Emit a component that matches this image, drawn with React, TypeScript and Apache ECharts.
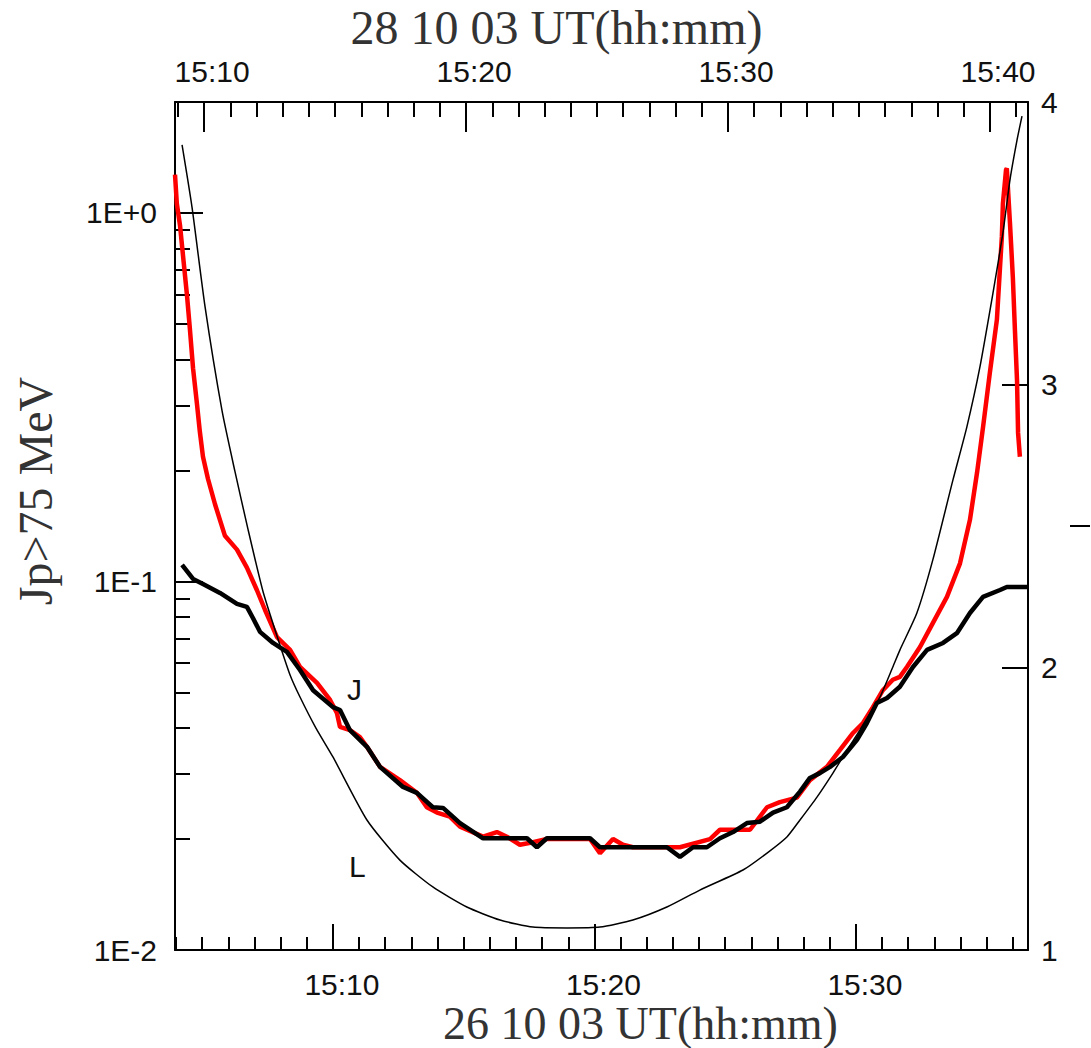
import React, { useEffect, useRef } from 'react';
import * as echarts from 'echarts';

// Bottom axis time: minutes after 15:00 (26 10 03 UT)
const redTime = [3.96, 4.03, 4.15, 4.26, 4.42, 4.53, 4.65, 4.8, 4.91, 5.03, 5.22, 5.49, 5.87, 6.33, 6.71, 7.09, 7.4, 7.86, 8.36, 8.74, 9.39, 9.89, 10.15, 10.27, 10.65, 11.03, 11.3, 11.8, 12.56, 13.21, 13.59, 13.98, 14.47, 14.86, 15.74, 16.27, 16.65, 17.15, 17.65, 18.18, 18.95, 19.83, 20.21, 20.71, 21.09, 21.47, 22.77, 23.27, 24.42, 24.8, 25.3, 25.95, 26.6, 27.09, 27.74, 28.24, 28.89, 29.39, 29.89, 30.27, 30.65, 31.03, 31.41, 31.68, 31.95, 32.45, 32.94, 33.48, 33.98, 34.36, 34.63, 34.86, 35.12, 35.39, 35.51, 35.58, 35.62, 35.74, 35.77, 35.89, 36.0, 36.08, 36.16, 36.2, 36.27];
const redFlux = [1.27, 1.06, 0.927, 0.774, 0.596, 0.484, 0.379, 0.303, 0.255, 0.218, 0.19, 0.162, 0.133, 0.122, 0.109, 0.0948, 0.0838, 0.0706, 0.0652, 0.0586, 0.0531, 0.0477, 0.044, 0.0403, 0.0395, 0.0378, 0.0356, 0.0314, 0.0289, 0.0267, 0.0244, 0.0236, 0.023, 0.0216, 0.0203, 0.0209, 0.0203, 0.0193, 0.0196, 0.02, 0.02, 0.02, 0.0183, 0.02, 0.0193, 0.019, 0.019, 0.019, 0.02, 0.0212, 0.0212, 0.0212, 0.0244, 0.0252, 0.0259, 0.0289, 0.0314, 0.0349, 0.0388, 0.0413, 0.0456, 0.0507, 0.0541, 0.0551, 0.0586, 0.0664, 0.0771, 0.0908, 0.112, 0.147, 0.197, 0.262, 0.368, 0.513, 0.713, 0.861, 1.06, 1.31, 1.32, 0.94, 0.67, 0.481, 0.352, 0.253, 0.218];

const modelTime = [4.23, 4.65, 5.03, 5.68, 6.33, 6.71, 6.94, 7.21, 7.71, 8.24, 8.74, 9.24, 10.0, 10.27, 10.65, 11.3, 11.8, 12.68, 13.21, 13.82, 14.21, 14.86, 15.74, 17.42, 17.8, 18.18, 19.83, 20.21, 22.77, 23.27, 23.77, 24.3, 24.8, 25.3, 25.83, 26.33, 26.83, 27.36, 27.86, 28.24, 28.62, 29.01, 29.5, 30.04, 30.42, 30.8, 31.19, 31.68, 32.18, 32.72, 33.33, 33.86, 34.36, 34.86, 35.51, 35.77, 36.58];
const modelFlux = [0.111, 0.1016, 0.0984, 0.0931, 0.0869, 0.0853, 0.0796, 0.073, 0.0681, 0.0644, 0.0575, 0.0507, 0.0456, 0.0448, 0.0395, 0.0356, 0.0314, 0.0277, 0.0267, 0.0244, 0.0243, 0.0221, 0.0201, 0.0201, 0.019, 0.0201, 0.0201, 0.019, 0.019, 0.0179, 0.019, 0.019, 0.0201, 0.0209, 0.0221, 0.0223, 0.0236, 0.0244, 0.0269, 0.0293, 0.0302, 0.0314, 0.0334, 0.0372, 0.0413, 0.0468, 0.0483, 0.0518, 0.0586, 0.0652, 0.0681, 0.0724, 0.0821, 0.0908, 0.0948, 0.0966, 0.0966];

const lTime = [4.23, 4.61, 5.11, 5.76, 6.25, 6.75, 7.32, 7.86, 8.36, 8.74, 9.35, 10.0, 11.3, 12.56, 13.82, 15.12, 16.39, 17.65, 18.95, 20.21, 21.47, 22.77, 24.03, 25.68, 26.6, 27.36, 27.86, 28.51, 29.12, 29.66, 30.15, 30.54, 30.92, 31.41, 31.68, 32.33, 32.94, 33.71, 34.24, 34.74, 35.24, 35.62, 35.89, 36.16, 36.35];
const lValue = [3.848, 3.628, 3.275, 2.907, 2.694, 2.489, 2.27, 2.111, 1.973, 1.895, 1.785, 1.683, 1.46, 1.318, 1.223, 1.152, 1.106, 1.081, 1.078, 1.081, 1.106, 1.152, 1.212, 1.283, 1.343, 1.4, 1.46, 1.541, 1.626, 1.707, 1.778, 1.838, 1.895, 2.001, 2.061, 2.192, 2.38, 2.663, 2.85, 3.062, 3.324, 3.536, 3.724, 3.865, 3.95];

// Axis ticks and labels
const bottomMajorTicks = [10, 20, 30];
const bottomLabels = ['15:10', '15:20', '15:30'];
const bottomMinorTicks = [4, 5, 6, 7, 8, 9, 11, 12, 13, 14, 15, 16, 17, 18, 19, 21, 22, 23, 24, 25, 26, 27, 28, 29, 31, 32, 33, 34, 35, 36];
const topMajorTicks = [10, 20, 30, 40];
const topLabels = ['15:10', '15:20', '15:30', '15:40'];
const topMinorTicks = [9, 11, 12, 13, 14, 15, 16, 17, 18, 19, 21, 22, 23, 24, 25, 26, 27, 28, 29, 31, 32, 33, 34, 35, 36, 37, 38, 39, 41];
const leftMajorTicks = [0.01, 0.1, 1];
const leftLabels = ['1E-2', '1E-1', '1E+0'];
const leftMinorTicks = [0.02, 0.03, 0.04, 0.05, 0.06, 0.07, 0.08, 0.09, 0.2, 0.3, 0.4, 0.5, 0.6, 0.7, 0.8, 0.9];
const rightTicks = [1, 2, 3, 4];
const rightLabels = ['1', '2', '3', '4'];
const rightOuterTick = [2.5];

const bottomRange = [3.96, 36.58];
const topRange = [8.89, 41.45];
const fluxRange = [0.01, 2];
const lRange = [1, 4];

const SANS = '"Liberation Sans", Arial, sans-serif';
const SERIF = '"Liberation Serif", "Times New Roman", serif';

function pickLabel(ticks: number[], labels: string[], v: number): string {
  const i = ticks.findIndex((t) => Math.abs(t - v) <= Math.abs(t) * 1e-6 + 1e-9);
  return i >= 0 ? labels[i] : '';
}

export default function App() {
  const ref = useRef<HTMLDivElement>(null);
  useEffect(() => {
    if (!ref.current) return;
    const chart = echarts.init(ref.current, null, { renderer: 'svg', width: 1091, height: 1048 });
    const lineAxis = { show: true, onZero: false, lineStyle: { color: '#000', width: 2 } };
    const noLine = { show: false, onZero: false };
    const labelStyle = { fontFamily: SANS, fontSize: 30, color: '#111' };
    const option: any = {
      animation: false,
      backgroundColor: '#ffffff',
      grid: { left: 175, right: 63, top: 102, bottom: 98, containLabel: false, outerBoundsMode: 'none' },
      xAxis: [
        {
          type: 'value', position: 'bottom', min: bottomRange[0], max: bottomRange[1],
          axisLine: lineAxis, splitLine: { show: false },
          axisTick: { show: true, inside: true, length: 26, customValues: bottomMajorTicks, lineStyle: { color: '#000', width: 2 } },
          axisLabel: { show: true, margin: 19, customValues: bottomMajorTicks, formatter: (v: number) => pickLabel(bottomMajorTicks, bottomLabels, v), ...labelStyle, padding: [0, 0, 0, 18] },
          name: '26 10 03 UT(hh:mm)', nameLocation: 'middle', nameGap: 50, nameMoveOverlap: false,
          nameTextStyle: { fontFamily: SERIF, fontSize: 46, color: '#333', padding: [0, 0, 0, 78] },
        },
        {
          type: 'value', position: 'bottom', min: bottomRange[0], max: bottomRange[1],
          axisLine: noLine, splitLine: { show: false }, axisLabel: { show: false },
          axisTick: { show: true, inside: true, length: 13, customValues: bottomMinorTicks, lineStyle: { color: '#000', width: 2 } },
        },
        {
          type: 'value', position: 'top', min: topRange[0], max: topRange[1],
          axisLine: lineAxis, splitLine: { show: false },
          axisTick: { show: true, inside: true, length: 30, customValues: topMajorTicks, lineStyle: { color: '#000', width: 2 } },
          axisLabel: { show: true, margin: 16, customValues: topMajorTicks, formatter: (v: number) => pickLabel(topMajorTicks, topLabels, v), ...labelStyle, padding: [0, 0, 0, 16] },
          name: '28 10 03 UT(hh:mm)', nameLocation: 'middle', nameGap: 40,
          nameTextStyle: { fontFamily: SERIF, fontSize: 48, color: '#333', padding: [0, 90, 0, 0] },
        },
        {
          type: 'value', position: 'top', min: topRange[0], max: topRange[1],
          axisLine: noLine, splitLine: { show: false }, axisLabel: { show: false },
          axisTick: { show: true, inside: true, length: 15, customValues: topMinorTicks, lineStyle: { color: '#000', width: 2 } },
        },
      ],
      yAxis: [
        {
          type: 'log', logBase: 10, position: 'left', min: fluxRange[0], max: fluxRange[1],
          axisLine: lineAxis, splitLine: { show: false },
          axisTick: { show: true, inside: true, length: 28, customValues: leftMajorTicks, lineStyle: { color: '#000', width: 2 } },
          axisLabel: { show: true, margin: 18, customValues: leftMajorTicks, formatter: (v: number) => pickLabel(leftMajorTicks, leftLabels, v), ...labelStyle },
          name: 'Jp>75 MeV', nameLocation: 'middle', nameGap: 116, nameRotate: 90,
          nameTextStyle: { fontFamily: SERIF, fontSize: 48, color: '#333', padding: [0, 0, 0, 70] },
        },
        {
          type: 'log', logBase: 10, position: 'left', min: fluxRange[0], max: fluxRange[1],
          axisLine: noLine, splitLine: { show: false }, axisLabel: { show: false },
          axisTick: { show: true, inside: true, length: 15, customValues: leftMinorTicks, lineStyle: { color: '#000', width: 2 } },
        },
        {
          type: 'value', position: 'right', min: lRange[0], max: lRange[1], interval: 1,
          axisLine: lineAxis, splitLine: { show: false },
          axisTick: { show: true, inside: true, length: 26, customValues: rightTicks, lineStyle: { color: '#000', width: 2 } },
          axisLabel: { show: true, margin: 13, customValues: rightTicks, formatter: (v: number) => pickLabel(rightTicks, rightLabels, v), ...labelStyle },
        },
        {
          type: 'value', position: 'right', offset: 42, min: lRange[0], max: lRange[1],
          axisLine: noLine, splitLine: { show: false }, axisLabel: { show: false },
          axisTick: { show: true, inside: false, length: 20, customValues: rightOuterTick, lineStyle: { color: '#000', width: 2 } },
        },
      ],
      series: [
        {
          name: 'J measured', type: 'line', xAxisIndex: 0, yAxisIndex: 0, symbol: 'none',
          data: redTime.map((t, i) => [t, redFlux[i]]),
          lineStyle: { color: '#ff0000', width: 4.5 }, z: 3,
        },
        {
          name: 'J model', type: 'line', xAxisIndex: 0, yAxisIndex: 0, symbol: 'none',
          data: modelTime.map((t, i) => [t, modelFlux[i]]),
          lineStyle: { color: '#000000', width: 4.5 }, z: 4,
        },
        {
          name: 'L', type: 'line', xAxisIndex: 0, yAxisIndex: 2, symbol: 'none', smooth: 0.2,
          data: lTime.map((t, i) => [t, lValue[i]]),
          lineStyle: { color: '#000000', width: 1.5 }, z: 5,
        },
      ],
      graphic: [
        { type: 'text', left: 347, top: 674, style: { text: 'J', font: `30px ${SANS}`, fill: '#111' } },
        { type: 'text', left: 349, top: 851, style: { text: 'L', font: `30px ${SANS}`, fill: '#111' } },
      ],
    };
    chart.setOption(option);
    return () => chart.dispose();
  }, []);
  return <div ref={ref} style={{ position: 'absolute', left: 0, top: 0, width: 1091, height: 1048 }} />;
}
